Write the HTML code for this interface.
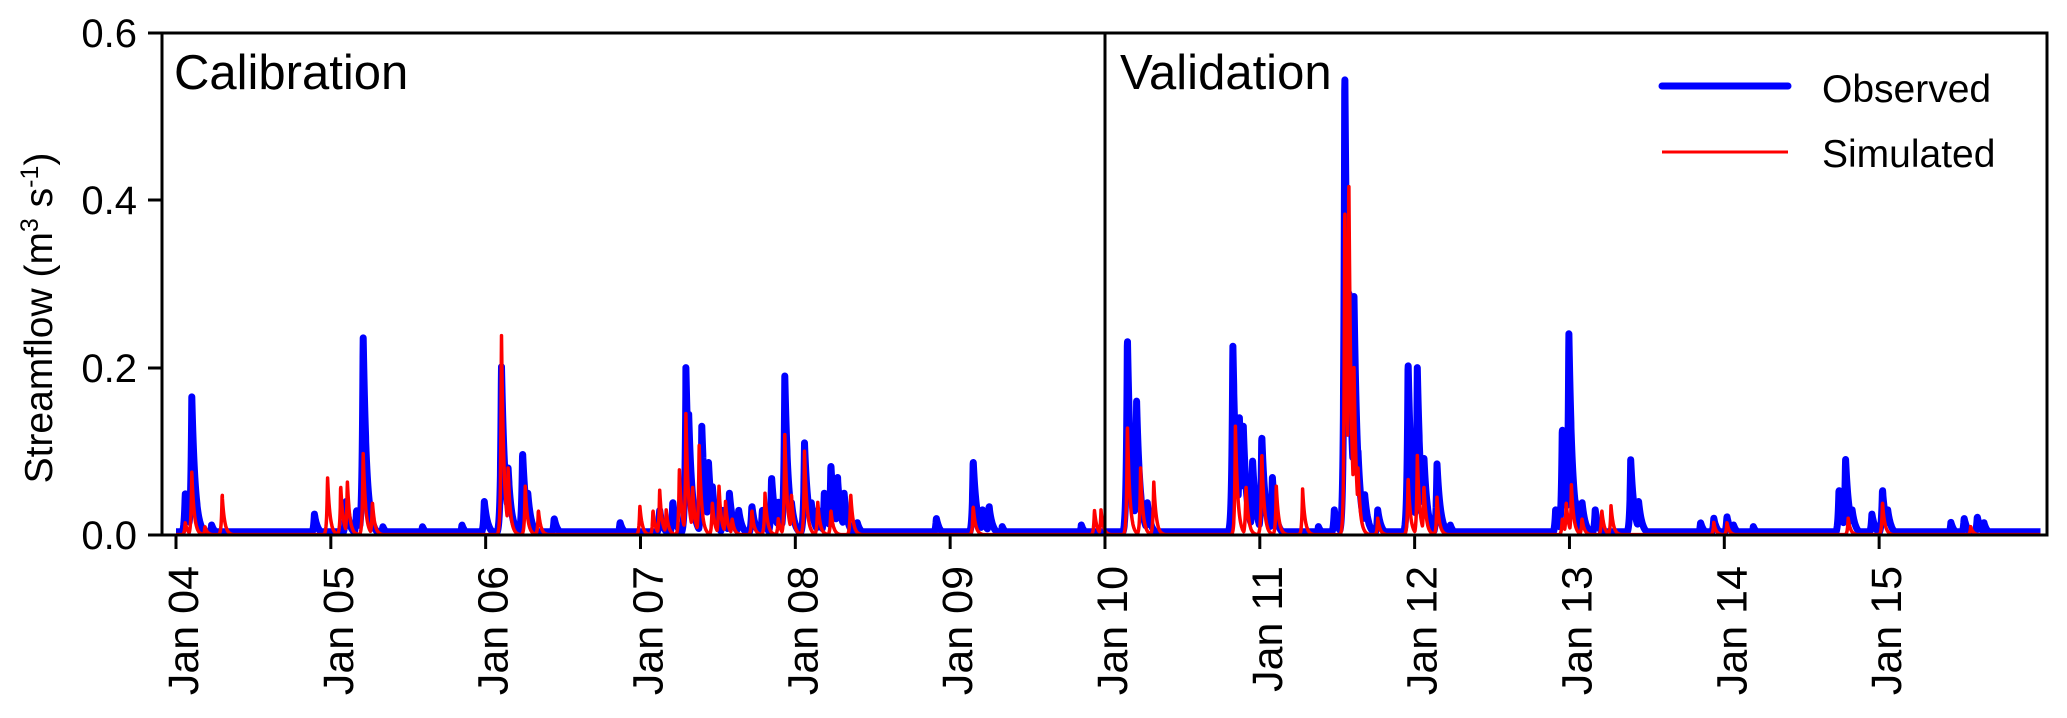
<!DOCTYPE html>
<html><head><meta charset="utf-8"><style>
html,body{margin:0;padding:0;background:#fff;}
svg{display:block;font-family:"Liberation Sans",Arial,sans-serif;}
</style></head><body>
<svg id="s" width="2067" height="718" viewBox="0 0 2067 718" xmlns="http://www.w3.org/2000/svg">
<rect width="2067" height="718" fill="#fff"/>
<g id="data"></g>
<rect x="162" y="33" width="1885" height="502" fill="none" stroke="#000" stroke-width="3"/>
<line x1="1105" y1="33" x2="1105" y2="535" stroke="#000" stroke-width="3"/>
<g stroke="#000" stroke-width="3">
<line x1="148" y1="33" x2="162" y2="33"/><line x1="148" y1="200" x2="162" y2="200"/>
<line x1="148" y1="368" x2="162" y2="368"/><line x1="148" y1="535" x2="162" y2="535"/>
</g>
<g font-size="40" text-anchor="end" fill="#000">
<text x="137" y="47">0.6</text><text x="137" y="214">0.4</text>
<text x="137" y="382">0.2</text><text x="137" y="549">0.0</text>
</g>
<text transform="translate(52,318) rotate(-90)" font-size="39" text-anchor="middle">Streamflow (m<tspan font-size="25" dy="-14">3</tspan><tspan dy="14"> s</tspan><tspan font-size="25" dy="-14">-1</tspan><tspan dy="14">)</tspan></text>
<g id="xt"></g>
<text x="174" y="89" font-size="49">Calibration</text>
<text x="1120" y="89" font-size="49">Validation</text>
<line x1="1662" y1="86" x2="1788" y2="86" stroke="#0000ff" stroke-width="7" stroke-linecap="round"/>
<line x1="1662" y1="152" x2="1788" y2="152" stroke="#ff0000" stroke-width="3"/>
<text x="1822" y="102" font-size="39">Observed</text>
<text x="1822" y="167" font-size="39">Simulated</text>
</svg>
<script>
var NS="http://www.w3.org/2000/svg";
function X(dx){return 176+(dx-133)*1.3177;}
function Y(v){return 535-v*837;}
var xt=document.getElementById('xt');
var labs=['04','05','06','07','08','09','10','11','12','13','14','15'];
for(var i=0;i<12;i++){var x=176+i*154.83;
 var l=document.createElementNS(NS,'line');l.setAttribute('x1',x);l.setAttribute('x2',x);l.setAttribute('y1',535);l.setAttribute('y2',549);l.setAttribute('stroke','#000');l.setAttribute('stroke-width',3);xt.appendChild(l);
 var t=document.createElementNS(NS,'text');t.setAttribute('transform','translate('+(x+22)+',566) rotate(-90)');t.setAttribute('font-size','43');t.setAttribute('text-anchor','end');t.textContent='Jan '+labs[i];xt.appendChild(t);}
var B=[[140,.05],[145,.165],[150,.02],[160,.012],[238,.025],[262,.04],[270,.03],[275,.24],[290,.01],[320,.01],[350,.012],[367,.04],[380,.205],[385,.08],[396,.1],[400,.05],[420,.02],[470,.015],[500,.03],[510,.04],[520,.2],[522,.15],[532,.13],[537,.09],[540,.06],[548,.03],[553,.05],[560,.03],[570,.035],[578,.03],[585,.07],[590,.04],[595,.19],[600,.04],[610,.11],[615,.04],[620,.03],[625,.05],[630,.085],[635,.07],[640,.05],[650,.015],[710,.02],[738,.09],[745,.03],[750,.035],[760,.01],[820,.012],[855,.24],[862,.16],[870,.04],[935,.23],[940,.14],[943,.13],[950,.09],[957,.12],[965,.07],[1000,.01],[1012,.03],[1020,.565],[1023,.3],[1027,.285],[1030,.1],[1035,.05],[1045,.03],[1068,.21],[1075,.2],[1080,.095],[1090,.085],[1100,.012],[1180,.03],[1185,.13],[1190,.245],[1195,.04],[1200,.04],[1210,.03],[1237,.09],[1243,.04],[1290,.015],[1300,.02],[1310,.022],[1315,.012],[1330,.01],[1395,.055],[1400,.092],[1405,.03],[1420,.025],[1428,.055],[1432,.03],[1480,.015],[1490,.02],[1500,.022],[1505,.015]];
var R=[[140,.015],[145,.075],[155,.01],[168,.05],[248,.07],[258,.06],[263,.065],[275,.1],[282,.04],[380,.245],[385,.08],[398,.06],[408,.03],[485,.035],[495,.03],[500,.055],[505,.03],[515,.08],[520,.145],[525,.06],[530,.11],[540,.04],[545,.06],[550,.04],[555,.02],[570,.03],[580,.05],[590,.02],[595,.12],[600,.05],[610,.1],[620,.04],[630,.03],[645,.05],[738,.035],[830,.03],[835,.03],[855,.135],[865,.08],[875,.065],[937,.13],[945,.06],[957,.1],[968,.06],[988,.055],[1020,.405],[1023,.44],[1027,.2],[1030,.08],[1045,.02],[1068,.07],[1075,.095],[1080,.06],[1090,.045],[1185,.02],[1188,.04],[1192,.06],[1200,.02],[1215,.03],[1222,.035],[1300,.015],[1310,.015],[1402,.02],[1428,.04],[1495,.01]];
function series(P,base,tau,rise){var pts=[];for(var dx=133;dx<=1548;dx+=0.15){var v=base;for(var k=0;k<P.length;k++){var d=dx-P[k][0];var e=d>=0?Math.exp(-d/tau):Math.exp(d/rise);var w=P[k][1]*e;if(w>v)v=w;}pts.push(X(dx).toFixed(1)+','+Y(v).toFixed(1));}return pts.join(' ');}
var g=document.getElementById('data');
function pl(p,c,w){var e=document.createElementNS(NS,'polyline');e.setAttribute('points',p);e.setAttribute('fill','none');e.setAttribute('stroke',c);e.setAttribute('stroke-width',w);e.setAttribute('stroke-linejoin','round');g.appendChild(e);}
pl(series(B,0.004,2.6,0.8),'#0000ff',7);
pl(series(R,0.0005,1.8,0.6),'#ff0000',3.5);
</script>
</body></html>
